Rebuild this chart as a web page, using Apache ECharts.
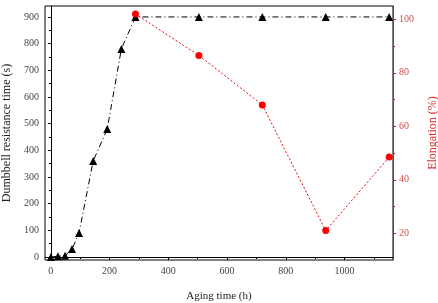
<!DOCTYPE html>
<html>
<head>
<meta charset="UTF-8">
<title></title>
<script src="https://cdn.jsdelivr.net/npm/echarts@6/dist/echarts.min.js"></script>
<style type="text/css">
	*{margin:0;padding:0;}
	body{background:#fff;}
	#main{width:438px;height:303px;}
</style>
</head>
<body>
<div id="main"></div>
<script type="text/javascript">
// dumbbell resistance time (s) vs aging time (h)
var agingTime = [0, 24, 48, 72, 96, 144, 192, 240, 288, 504, 720, 936, 1152];
var resistTime = [0, 3, 5, 30, 90, 360, 480, 780, 900, 900, 900, 900, 900];
// elongation (%)
var elongTime = [288, 504, 720, 936, 1152];
var elongation = [102, 86.5, 68, 21, 48.5];
// tick labels
var xTicks = [0, 200, 400, 600, 800, 1000];
var xMinor = [100, 300, 500, 700, 900, 1100];
var yLeftTicks = [0, 100, 200, 300, 400, 500, 600, 700, 800, 900];
var yLeftMinor = [50, 150, 250, 350, 450, 550, 650, 750, 850];
var yRightTicks = [20, 40, 60, 80, 100];
var yRightMinor = [30, 50, 70, 90];

function pairs(xs, ys){
	var out = [];
	for (var i = 0; i < xs.length; i++) out.push([xs[i], ys[i]]);
	return out;
}
function plain(v){ return String(v); }

var font = 'Liberation Serif';
var red = '#e01010';
var myChart = echarts.init(document.getElementById('main'));

var option = {
	animation: false,
	backgroundColor: '#fff',
	grid: {
		left: 45, right: 45, top: 6, bottom: 43,
		containLabel: false, outerBoundsMode: 'none',
		show: true, borderColor: '#000', borderWidth: 1
	},
	xAxis: [
		{
			type: 'value', min: -20, max: 1165, position: 'bottom',
			name: 'Aging time (h)', nameLocation: 'middle', nameGap: 31,
			nameTextStyle: { fontFamily: font, fontSize: 11, color: '#222' },
			axisLine: { show: true, lineStyle: { color: '#000', width: 1 } },
			axisTick: { show: true, length: 3, customValues: xTicks, lineStyle: { color: '#000' } },
			axisLabel: { customValues: xTicks, formatter: plain, margin: 6, fontFamily: font, fontSize: 10, color: '#444' },
			splitLine: { show: false }
		},
		{
			type: 'value', min: -20, max: 1165, position: 'bottom',
			axisLine: { show: false },
			axisTick: { show: true, length: 2, customValues: xMinor, lineStyle: { color: '#000' } },
			axisLabel: { show: false },
			splitLine: { show: false }
		}
	],
	yAxis: [
		{
			type: 'value', min: -11, max: 941, position: 'left',
			name: 'Dumbbell resistance time (s)', nameLocation: 'middle', nameGap: 32, nameRotate: 90,
			nameTextStyle: { fontFamily: font, fontSize: 12, color: '#222' },
			axisLine: { show: true, lineStyle: { color: '#000', width: 1 } },
			axisTick: { show: true, length: 3, customValues: yLeftTicks, lineStyle: { color: '#000' } },
			axisLabel: { customValues: yLeftTicks, formatter: plain, margin: 6, fontFamily: font, fontSize: 10, color: '#444' },
			splitLine: { show: false }
		},
		{
			type: 'value', min: -11, max: 941, position: 'left',
			axisLine: { show: false },
			axisTick: { show: true, length: 2, customValues: yLeftMinor, lineStyle: { color: '#000' } },
			axisLabel: { show: false },
			splitLine: { show: false }
		},
		{
			type: 'value', min: 10, max: 105, position: 'right',
			name: 'Elongation (%)', nameLocation: 'middle', nameGap: 34, nameRotate: 90,
			nameTextStyle: { fontFamily: font, fontSize: 12, color: '#d83030' },
			axisLine: { show: true, lineStyle: { color: red, width: 1 } },
			axisTick: { show: true, length: 3, customValues: yRightTicks, lineStyle: { color: red } },
			axisLabel: { customValues: yRightTicks, formatter: plain, margin: 6, fontFamily: font, fontSize: 10, color: '#d05050' },
			splitLine: { show: false }
		},
		{
			type: 'value', min: 10, max: 105, position: 'right',
			axisLine: { show: false },
			axisTick: { show: true, length: 2, customValues: yRightMinor, lineStyle: { color: red } },
			axisLabel: { show: false },
			splitLine: { show: false }
		}
	],
	series: [
		{
			name: 'Dumbbell resistance time',
			type: 'line', xAxisIndex: 0, yAxisIndex: 0,
			symbol: 'triangle', symbolSize: 8,
			itemStyle: { color: '#000' },
			lineStyle: { color: '#000', width: 1, type: [6, 3, 1, 3] },
			data: pairs(agingTime, resistTime)
		},
		{
			name: 'Elongation',
			type: 'line', xAxisIndex: 0, yAxisIndex: 2,
			symbol: 'circle', symbolSize: 7,
			itemStyle: { color: '#ff0000' },
			lineStyle: { color: red, width: 1, type: [2, 2] },
			data: pairs(elongTime, elongation)
		}
	]
};
myChart.setOption(option);
</script>
</body>
</html>
